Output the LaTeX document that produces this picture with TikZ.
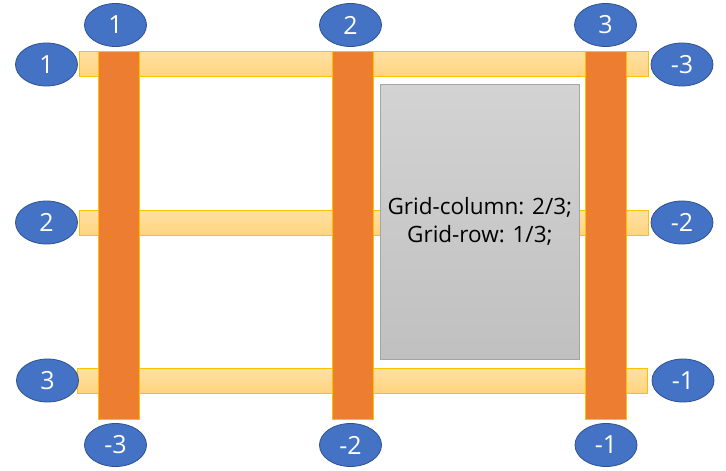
\documentclass[tikz,border=0pt]{standalone}
\usepackage{fontspec}
\setmainfont{Open Sans}
\usetikzlibrary{shapes.geometric}
\definecolor{ebl}{HTML}{4472C4}
\definecolor{ebd}{HTML}{2F528F}
\definecolor{vor}{HTML}{ED7D31}
\definecolor{gold}{HTML}{FFC000}
\definecolor{hbt}{HTML}{FFE0A3}
\definecolor{hbb}{HTML}{FFD47F}
\definecolor{gtop}{HTML}{D3D3D3}
\definecolor{gbot}{HTML}{C0C0C0}
\definecolor{gbd}{HTML}{A5A5A5}
\begin{document}
\begin{tikzpicture}[x=1pt,y=-1pt,
  lbl/.style={ellipse, draw=ebd, line width=0.8pt, fill=ebl, minimum width=62pt, minimum height=43pt, inner sep=0pt, text=white, font=\fontsize{25}{27}\selectfont},
  hbar/.style={draw=gold, line width=0.8pt, top color=hbt, bottom color=hbb},
  vbar/.style={draw=gold, line width=0.8pt, fill=vor},
  gbox/.style={draw=gbd, line width=0.8pt, top color=gtop, bottom color=gbot}]
\useasboundingbox (0,0) rectangle (726,471);
% horizontal bars
\path[hbar] (79,51.5) rectangle (648,76.5);
\path[hbar] (79,210) rectangle (648,235.5);
\path[hbar] (77,368) rectangle (647,393);
% gray box
\node[gbox, minimum width=199pt, minimum height=275pt, inner sep=0pt, anchor=north west, align=center, font=\fontsize{22.5}{28}\selectfont] (box) at (380,84) {Grid-column: 2/3;\\Grid-row: 1/3;};
% vertical bars
\path[vbar] (98,51.5) rectangle (139,419);
\path[vbar] (332,51.5) rectangle (373,419);
\path[vbar] (585,51.5) rectangle (626,419);
% labels
\node[lbl] (t1) at (115.5,25) {1};
\node[lbl] (t2) at (350.5,25) {2};
\node[lbl] (t3) at (605.5,25) {3};
\node[lbl] (b1) at (115.5,445) {-3};
\node[lbl] (b2) at (350.5,445) {-2};
\node[lbl] (b3) at (606,445) {-1};
\node[lbl] (l1) at (46.5,64.5) {1};
\node[lbl] (l2) at (46.5,222.5) {2};
\node[lbl] (l3) at (47.5,380.5) {3};
\node[lbl] (r1) at (682,64.5) {-3};
\node[lbl] (r2) at (682,222.5) {-2};
\node[lbl] (r3) at (683,380.5) {-1};
\end{tikzpicture}
\end{document}
